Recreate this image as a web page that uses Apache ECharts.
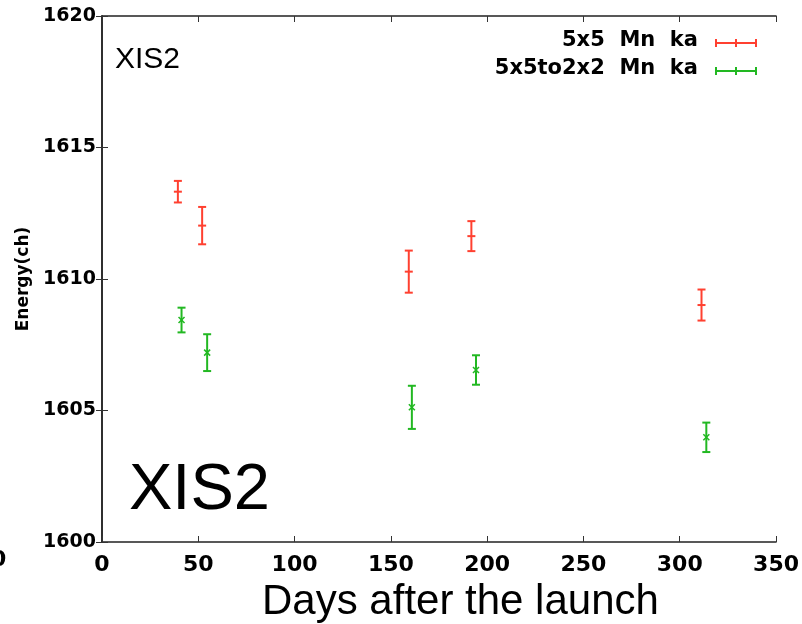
<!DOCTYPE html>
<html>
<head>
<meta charset="utf-8">
<script src="https://cdn.jsdelivr.net/npm/echarts@6/dist/echarts.min.js"></script>
<style>html,body{margin:0;padding:0;background:#fff;}#c{width:802px;height:624px;}</style>
</head>
<body>
<div id="c"></div>
<script>
// Data
const redDays   = [39.4, 52.0, 159.3, 191.8, 311.3];
const redEnergy = [1613.32, 1612.03, 1610.28, 1611.63, 1609.01];
const redErr    = [0.41, 0.71, 0.80, 0.57, 0.59];

const greenDays   = [41.3, 54.6, 160.9, 194.2, 313.8];
const greenEnergy = [1608.44, 1607.20, 1605.12, 1606.54, 1603.98];
const greenErr    = [0.47, 0.70, 0.82, 0.56, 0.56];

const xTicks = [0, 50, 100, 150, 200, 250, 300, 350];
const yTicks = [1600, 1605, 1610, 1615, 1620];

const redName = '5x5  Mn  ka';
const greenName = '5x5to2x2  Mn  ka';

function build(days, en, err) {
  return days.map((d, i) => [d, en[i], en[i] - err[i], en[i] + err[i]]);
}

function makeRender(color, marker) {
  return function (params, api) {
    const x = api.value(0);
    const c = api.coord([x, api.value(1)]);
    const lo = api.coord([x, api.value(2)]);
    const hi = api.coord([x, api.value(3)]);
    const st = { stroke: color, lineWidth: 2 };
    const cw = 4;
    const children = [
      { type: 'line', shape: { x1: c[0], y1: lo[1], x2: c[0], y2: hi[1] }, style: st },
      { type: 'line', shape: { x1: c[0] - cw, y1: lo[1], x2: c[0] + cw, y2: lo[1] }, style: st },
      { type: 'line', shape: { x1: c[0] - cw, y1: hi[1], x2: c[0] + cw, y2: hi[1] }, style: st }
    ];
    if (marker === 'plus') {
      children.push({ type: 'line', shape: { x1: c[0] - 4, y1: c[1], x2: c[0] + 4, y2: c[1] }, style: st });
    } else {
      children.push({ type: 'line', shape: { x1: c[0] - 3, y1: c[1] - 3, x2: c[0] + 3, y2: c[1] + 3 }, style: { stroke: color, lineWidth: 1.5 } });
      children.push({ type: 'line', shape: { x1: c[0] - 3, y1: c[1] + 3, x2: c[0] + 3, y2: c[1] - 3 }, style: { stroke: color, lineWidth: 1.5 } });
    }
    return { type: 'group', children: children };
  };
}

const RED = '#ff4030';
const GREEN = '#22b822';
const tickFont = 'DejaVu Sans';

const chart = echarts.init(document.getElementById('c'), null, { renderer: 'canvas' });

function legendItem(label, y, color) {
  return [
    { type: 'text', right: 104, top: y - 13, style: { text: label, font: 'bold 21px "DejaVu Sans"', fill: '#000', textAlign: 'right' } },
    { type: 'line', shape: { x1: 716, y1: y, x2: 756, y2: y }, style: { stroke: color, lineWidth: 2 } },
    { type: 'line', shape: { x1: 716, y1: y - 4, x2: 716, y2: y + 4 }, style: { stroke: color, lineWidth: 2 } },
    { type: 'line', shape: { x1: 736, y1: y - 4, x2: 736, y2: y + 4 }, style: { stroke: color, lineWidth: 2 } },
    { type: 'line', shape: { x1: 756, y1: y - 4, x2: 756, y2: y + 4 }, style: { stroke: color, lineWidth: 2 } }
  ];
}

const axisLine = { show: true, lineStyle: { color: '#222', width: 1.5 } };

chart.setOption({
  animation: false,
  backgroundColor: '#fff',
  grid: { left: 102, right: 25, top: 16, bottom: 82, show: false },
  xAxis: [
    {
      type: 'value', min: 0, max: 350, interval: 50, position: 'bottom',
      axisLine: axisLine,
      axisTick: { show: true, inside: true, length: 6, lineStyle: { color: '#333' } },
      splitLine: { show: false },
      axisLabel: { color: '#000', fontFamily: tickFont, fontWeight: 'bold', fontSize: 22, margin: 12,
        formatter: v => xTicks.includes(v) ? String(v) : '' }
    },
    {
      type: 'value', min: 0, max: 350, interval: 50, position: 'top',
      axisLine: axisLine,
      axisTick: { show: true, inside: true, length: 6, lineStyle: { color: '#333' } },
      splitLine: { show: false },
      axisLabel: { show: false }
    }
  ],
  yAxis: [
    {
      type: 'value', min: 1600, max: 1620, interval: 5, position: 'left',
      axisLine: axisLine,
      axisTick: { show: true, inside: true, length: 6, lineStyle: { color: '#333' } },
      splitLine: { show: false },
      axisLabel: { color: '#000', fontFamily: tickFont, fontWeight: 'bold', fontSize: 19, margin: 6,
        formatter: v => yTicks.includes(v) ? String(v) : '' },
      name: 'Energy(ch)', nameLocation: 'middle', nameGap: 68, nameRotate: 90,
      nameTextStyle: { color: '#000', fontFamily: tickFont, fontWeight: 'bold', fontSize: 17 }
    },
    {
      type: 'value', min: 1600, max: 1620, interval: 5, position: 'right',
      axisLine: axisLine,
      axisTick: { show: true, inside: true, length: 6, lineStyle: { color: '#333' } },
      splitLine: { show: false },
      axisLabel: { show: false }
    }
  ],
  series: [
    { name: redName, type: 'custom', xAxisIndex: 0, yAxisIndex: 0, renderItem: makeRender(RED, 'plus'),
      encode: { x: 0, y: [1, 2, 3] }, data: build(redDays, redEnergy, redErr), clip: false },
    { name: greenName, type: 'custom', xAxisIndex: 0, yAxisIndex: 0, renderItem: makeRender(GREEN, 'cross'),
      encode: { x: 0, y: [1, 2, 3] }, data: build(greenDays, greenEnergy, greenErr), clip: false }
  ],
  graphic: [
    { type: 'text', left: 115, top: 45, style: { text: 'XIS2', font: '30px "Liberation Sans"', fill: '#000' } },
    { type: 'text', left: 129, top: 459, style: { text: 'XIS2', font: '65px "Liberation Sans"', fill: '#000' } },
    { type: 'text', left: 262, top: 581, style: { text: 'Days after the launch', font: '42px "Liberation Sans"', fill: '#000' } },
    { type: 'text', left: -9, top: 549, style: { text: '0', font: 'bold 22px "DejaVu Sans"', fill: '#000' } }
  ].concat(legendItem(redName, 43, RED)).concat(legendItem(greenName, 71, GREEN))
});
</script>
</body>
</html>
